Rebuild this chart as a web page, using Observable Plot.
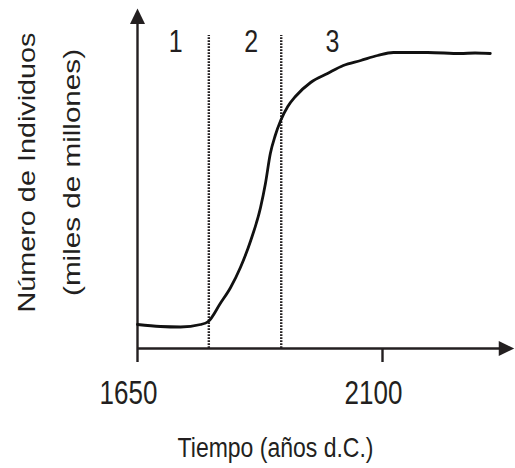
<!DOCTYPE html>
<html>
<head>
<meta charset="utf-8">
<script src="https://cdn.jsdelivr.net/npm/d3@7"></script>
<script src="https://cdn.jsdelivr.net/npm/@observablehq/plot@0.6"></script>
<style>
  html, body { margin: 0; padding: 0; background: #fff; }
  svg { overflow: visible; }
</style>
</head>
<body>
<div id="chart"></div>
<script>
// Curve data (year, population in arbitrary units)
const years = [1650, 1692, 1729, 1766, 1780, 1802, 1821, 1839, 1858, 1876, 1885, 1894, 1903,
               1913, 1926, 1940, 1968, 1999, 2028, 2060, 2091, 2120, 2183, 2243, 2270, 2298];
const population = [24, 22, 21.5, 24, 27, 45, 61, 81, 108, 141, 165, 195, 213,
                    228, 242, 252, 266, 275, 283, 288, 293, 296, 296, 295, 295.5, 295];
// Phase boundaries
const boundaries = [1781, 1914];
const boundaryTop = 313;
// Phase labels
const phaseLabels = ["1", "2", "3"];
const phaseYears = [1720, 1859, 2008];
const phaseY = 306.5;
// Tick labels
const tickYears = [1650, 2100];
const tickLabels = ["1650", "2100"];
// Axis extents
const xStart = 1650, xArrowTip = 2342, xAxisEnd = 2316;
const yArrowTip = 340, yAxisTop = 326, axisBelow = -14;
// Axis titles
const xTitle = "Tiempo (años d.C.)";
const yTitle = ["Número de Individuos", "(miles de millones)"];

const curve = years.map((y, i) => ({year: y, value: population[i]}));
const ink = "#231f20";

// arrowhead symbol: tip at origin, pointing up
const arrowHead = {draw(ctx) { ctx.moveTo(0, 0); ctx.lineTo(-7.5, 15.5); ctx.lineTo(7.5, 15.5); ctx.closePath(); }};

const plot = Plot.plot({
  width: 515,
  height: 468,
  x: {domain: [1650, 2100], range: [137, 382], axis: null},
  y: {domain: [0, 340], range: [348, 8], axis: null},
  style: {fontFamily: "'Liberation Sans', Arial, Helvetica, sans-serif", color: ink, background: "#fff"},
  marks: [
    // dotted boundaries
    Plot.ruleX(boundaries, {y1: 0, y2: boundaryTop, stroke: ink, strokeWidth: 2.4, strokeDasharray: "1.7,1.3"}),
    // axes
    Plot.ruleX([xStart], {y1: axisBelow, y2: yAxisTop, stroke: ink, strokeWidth: 2.4}),
    Plot.ruleY([0], {x1: xStart, x2: xAxisEnd, stroke: ink, strokeWidth: 2.4}),
    Plot.ruleX([tickYears[1]], {y1: axisBelow, y2: 0, stroke: ink, strokeWidth: 2.4}),
    Plot.dot([{x: xStart, y: yArrowTip}], {x: "x", y: "y", symbol: arrowHead, fill: ink, stroke: "none"}),
    Plot.dot([{x: xArrowTip, y: 0}], {x: "x", y: "y", symbol: arrowHead, fill: ink, stroke: "none", rotate: 90}),
    // curve
    Plot.line(curve, {x: "year", y: "value", curve: "monotone-x", stroke: "#111", strokeWidth: 2.8}),
    // phase labels
    Plot.text(phaseLabels, {x: (d, i) => phaseYears[i], y: phaseY, text: d => d, fontSize: 25, fill: ink, lineAnchor: "middle", className: "s125"}),
    // tick labels
    Plot.text(tickLabels, {x: (d, i) => tickYears[i], y: -44.5, dx: -9, text: d => d, fontSize: 26, fill: ink, lineAnchor: "middle", className: "s130"}),
    // x title
    Plot.text([xTitle], {x: 1903.5, y: -99.5, text: d => d, fontSize: 23, fill: ink, lineAnchor: "middle", className: "s117"}),
    // y title
    Plot.text(yTitle, {x: (d, i) => [1448, 1530][i], y: 176, text: d => d, fontSize: 24, rotate: -90, fill: ink, lineAnchor: "middle", className: "ytitle"})
  ]
});

// vertical stretch of horizontal labels (the reference's type is drawn taller than wide)
[["s125", 1.25], ["s130", 1.3], ["s117", 1.17]].forEach(([cls, sy]) => {
  d3.select(plot).selectAll("." + cls + " text").each(function() {
    const el = d3.select(this);
    const t = el.attr("transform");
    if (t) {
      el.attr("transform", t + ` scale(1,${sy})`);
    } else {
      const x = +el.attr("x") || 0, y = +el.attr("y") || 0;
      el.attr("x", null).attr("y", null).attr("transform", `translate(${x},${y}) scale(1,${sy})`);
    }
  });
});
d3.select(plot).selectAll(".ytitle text").each(function(d, i) {
  d3.select(this).attr("textLength", [280, 247][i]).attr("lengthAdjust", "spacingAndGlyphs");
});

document.getElementById("chart").appendChild(plot);
</script>
</body>
</html>
